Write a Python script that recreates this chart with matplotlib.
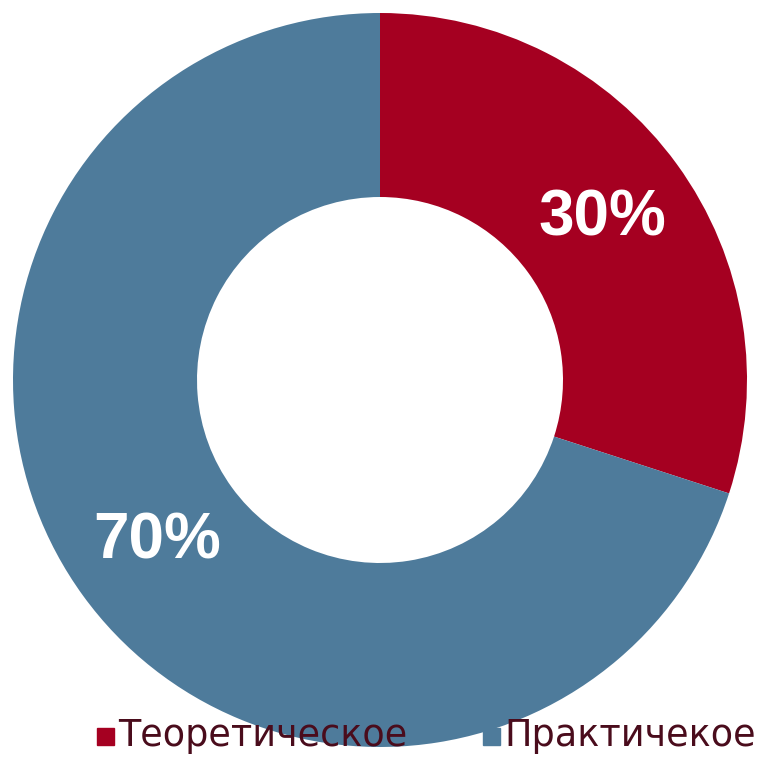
import matplotlib
matplotlib.use("Agg")
import matplotlib.pyplot as plt
from matplotlib.patches import Rectangle

categories = ["Теоретическое", "Практичекое"]
values = [30, 70]
colors = ["#A50021", "#4E7B9B"]
legend_text_color = "#4A0C1C"

W, H = 757, 758
fig = plt.figure(figsize=(W / 100, H / 100), dpi=100)
ax = fig.add_axes([0, 0, 1, 1])

cx, cy = 380, H - 380
R = 367
ring = 184

wedges, texts, autotexts = ax.pie(
    values, colors=colors, startangle=90, counterclock=False,
    radius=R, center=(cx, cy),
    wedgeprops=dict(width=ring, edgecolor="none", linewidth=0),
    autopct="%1.0f%%", pctdistance=(R - ring / 2) / R,
    textprops=dict(color="white", fontsize=46, fontweight="bold",
                   family=["Liberation Sans", "DejaVu Sans"]),
)
ax.set_xlim(0, W)
ax.set_ylim(0, H)
ax.set_aspect("equal")
ax.axis("off")

# legend drawn manually
sq = 17
lx = [97, 483]
ty = H - 736
for i, (cat, col) in enumerate(zip(categories, colors)):
    ax.add_patch(Rectangle((lx[i], ty - sq / 2), sq, sq, color=col, zorder=5))
    ax.text(lx[i] + sq + 4, ty, cat, fontsize=26.3, color=legend_text_color,
            va="center", ha="left", zorder=6,
            family=["DejaVu Sans"])

fig.savefig("out.png", dpi=100)
